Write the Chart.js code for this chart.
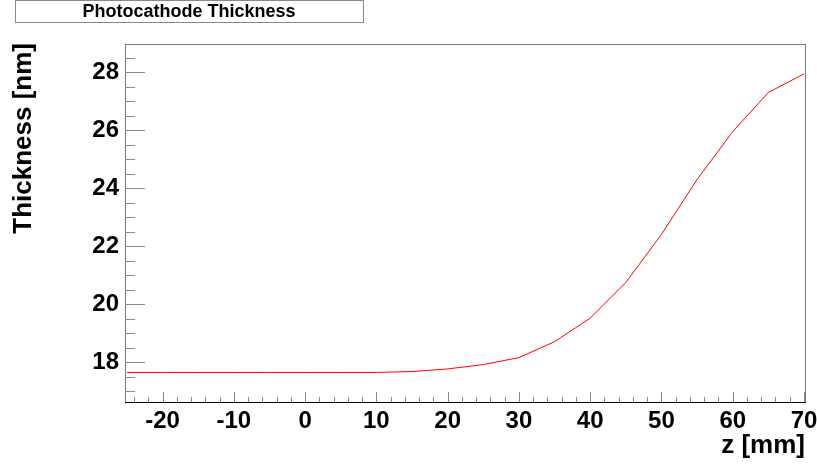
<!DOCTYPE html>
<html>
<head>
<meta charset="utf-8">
<script src="https://cdn.jsdelivr.net/npm/chart.js@4/dist/chart.umd.min.js"></script>
<style>
  html, body { margin: 0; padding: 0; background: #fff; }
  #wrap { width: 817px; height: 466px; position: relative; }
</style>
</head>
<body>
<div id="wrap"><canvas id="thick"></canvas></div>
<script>
// z position [mm] and photocathode thickness [nm]
const zPos = [-25, -20, -15, -10, -5, 0, 5, 10, 15, 20, 25, 30, 35, 40, 45, 50, 55, 60, 65, 70];
const thickness = [17.65, 17.65, 17.65, 17.65, 17.65, 17.65, 17.65, 17.65, 17.68, 17.77,
  17.92, 18.16, 18.71, 19.52, 20.75, 22.41, 24.3, 25.95, 27.3, 27.94];

const xTicks = [-20, -10, 0, 10, 20, 30, 40, 50, 60, 70];
const yTicks = [18, 20, 22, 24, 26, 28];

const titleText = "Photocathode Thickness";
const xTitle = "z [mm]";
const yTitle = "Thickness [nm]";

const FONT = "'Liberation Sans', Arial, Helvetica, sans-serif";

// ROOT style frame: ticks drawn inside the frame, title box at top left
const rootFrame = {
  id: "rootFrame",
  beforeDatasetsDraw(chart) {
    const { ctx, chartArea: a, scales: { x, y } } = chart;
    ctx.save();
    ctx.lineWidth = 1;
    ctx.strokeStyle = "#777";
    ctx.strokeRect(a.left + 0.5, a.top + 0.5, a.right - a.left - 1, a.bottom - a.top);

    ctx.beginPath();
    // y ticks: major every 2, minor every 0.5
    for (let v = 16.5; v <= 29; v += 0.5) {
      if (v < y.min || v > y.max) continue;
      const py = Math.round(y.getPixelForValue(v)) + 0.5;
      const len = yTicks.includes(v) ? 20 : 10;
      ctx.moveTo(a.left, py);
      ctx.lineTo(a.left + len, py);
    }
    // x ticks: major every 10, minor every 2
    for (let v = -24; v <= 70; v += 2) {
      const px = Math.round(x.getPixelForValue(v)) + 0.5;
      const len = xTicks.includes(v) ? 10 : 5;
      ctx.moveTo(px, a.bottom);
      ctx.lineTo(px, a.bottom - len);
    }
    ctx.strokeStyle = "#888";
    ctx.stroke();

    ctx.beginPath();
    ctx.moveTo(a.left, a.bottom + 0.5);
    ctx.lineTo(a.right, a.bottom + 0.5);
    ctx.strokeStyle = "#000";
    ctx.stroke();
    ctx.restore();
  },
  afterDraw(chart) {
    const { ctx } = chart;
    ctx.save();
    // title box
    ctx.fillStyle = "#fff";
    ctx.fillRect(15, 0, 348, 22);
    ctx.strokeStyle = "#888";
    ctx.lineWidth = 1;
    ctx.strokeRect(15.5, 0.5, 348, 22);
    ctx.fillStyle = "#000";
    ctx.font = "bold 18px " + FONT;
    ctx.textAlign = "center";
    ctx.textBaseline = "middle";
    ctx.fillText(titleText, 189, 12);

    // axis titles, right aligned to the axis ends
    ctx.font = "bold 26px " + FONT;
    ctx.textAlign = "right";
    ctx.textBaseline = "alphabetic";
    ctx.fillText(xTitle, 805, 453);

    ctx.translate(31, 43);
    ctx.rotate(-Math.PI / 2);
    ctx.fillText(yTitle, 0, 0);
    ctx.restore();
  }
};

new Chart(document.getElementById("thick"), {
  type: "line",
  data: {
    datasets: [{
      data: zPos.map((z, i) => ({ x: z, y: thickness[i] })),
      borderColor: "#ff0000",
      borderWidth: 1,
      pointRadius: 0,
      tension: 0,
      fill: false
    }]
  },
  options: {
    responsive: true,
    maintainAspectRatio: false,
    animation: false,
    events: [],
    layout: { padding: { top: 44, right: 11, left: 0, bottom: 0 } },
    plugins: { legend: { display: false }, tooltip: { enabled: false } },
    scales: {
      x: {
        type: "linear",
        min: -25.27,
        max: 70.28,
        grid: { display: false, drawTicks: false },
        border: { display: false },
        afterFit: (s) => { s.height = 64; s.paddingLeft = 0; s.paddingRight = 0; },
        afterBuildTicks: (s) => { s.ticks = xTicks.map((v) => ({ value: v })); },
        ticks: {
          padding: 5,
          maxRotation: 0,
          autoSkip: false,
          color: "#000",
          font: { family: FONT, size: 24, weight: "bold" }
        }
      },
      y: {
        type: "linear",
        min: 16.63,
        max: 28.97,
        grid: { display: false, drawTicks: false },
        border: { display: false },
        afterFit: (s) => { s.width = 125; s.paddingTop = 0; s.paddingBottom = 0; },
        afterBuildTicks: (s) => { s.ticks = yTicks.map((v) => ({ value: v })); },
        ticks: {
          padding: 6,
          autoSkip: false,
          color: "#000",
          font: { family: FONT, size: 24, weight: "bold" }
        }
      }
    }
  },
  plugins: [rootFrame]
});
</script>
</body>
</html>
